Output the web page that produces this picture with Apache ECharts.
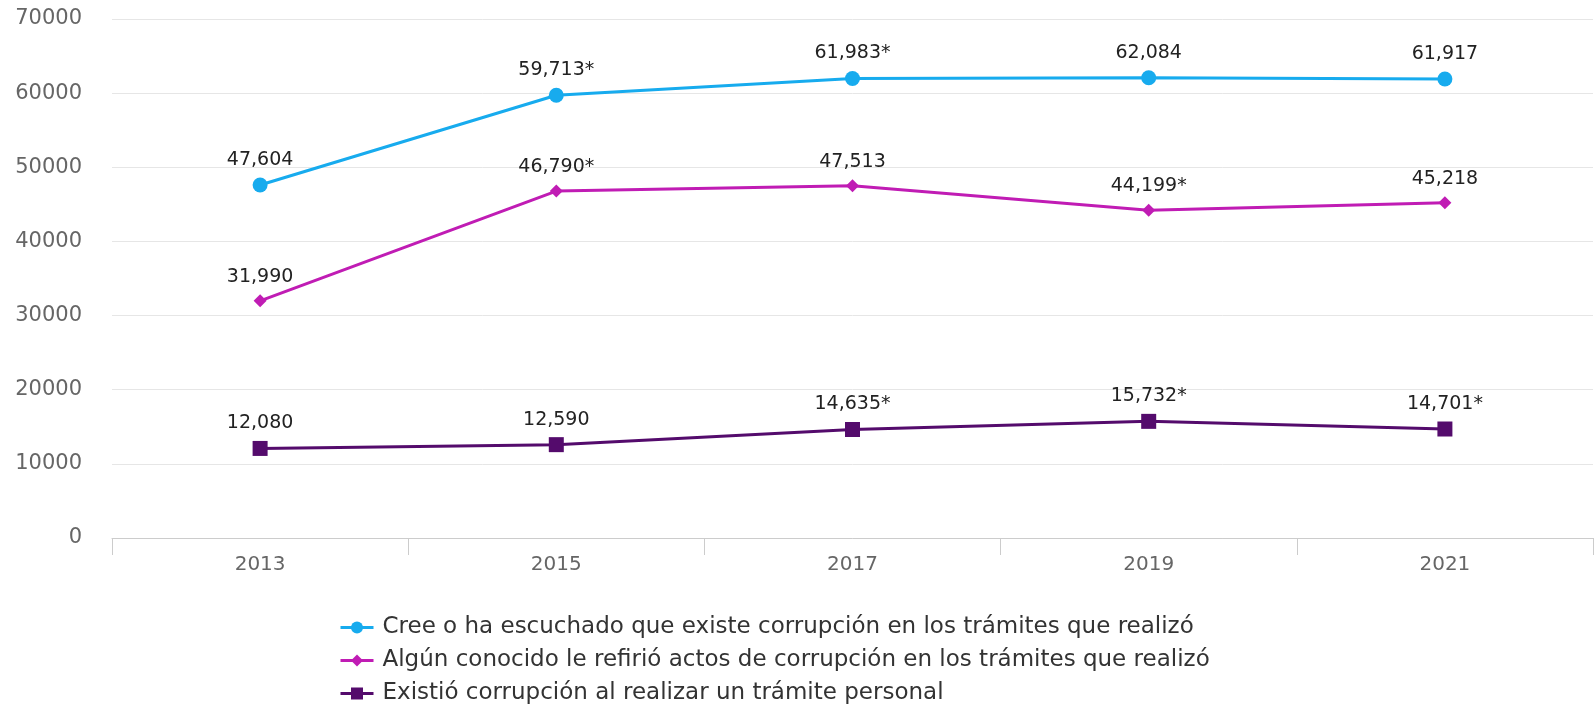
<!DOCTYPE html>
<html><head><meta charset="utf-8">
<script src="https://cdn.jsdelivr.net/npm/echarts@6/dist/echarts.min.js"></script>
<style>html,body{margin:0;padding:0;background:#fff;}#c{width:1596px;height:710px;}</style>
</head><body><div id="c"></div>
<script>
const years = ['2013','2015','2017','2019','2021'];
const seriesNames = [
  'Cree o ha escuchado que existe corrupción en los trámites que realizó',
  'Algún conocido le refirió actos de corrupción en los trámites que realizó',
  'Existió corrupción al realizar un trámite personal'
];
const creeValues = [47604, 59713, 61983, 62084, 61917];
const conocidoValues = [31990, 46790, 47513, 44199, 45218];
const existioValues = [12080, 12590, 14635, 15732, 14701];
const creeMarks = ['', '*', '*', '', ''];
const conocidoMarks = ['', '*', '', '*', ''];
const existioMarks = ['', '', '*', '*', '*'];
const yTicks = [0, 10000, 20000, 30000, 40000, 50000, 60000, 70000];

const colors = ['#17abee', '#c01cb4', '#540b6c'];
const symbols = ['circle', 'diamond', 'rect'];
const symSizes = [15, 13, 15];
const allValues = [creeValues, conocidoValues, existioValues];
const allMarks = [creeMarks, conocidoMarks, existioMarks];
const FF = "'DejaVu Sans', Verdana, sans-serif";

function fmt(v){ return v.toLocaleString('en-US'); }

const chart = echarts.init(document.getElementById('c'));
chart.setOption({
  animation: false,
  textStyle: { fontFamily: FF },
  grid: { left: 112, right: 3, top: 19, bottom: 172 },
  legend: {
    orient: 'vertical', left: 339, top: 616, itemGap: 10, padding: 0,
    height: 100,
    itemWidth: 33, itemHeight: 15,
    lineStyle: { width: 3 },
    textStyle: { fontSize: 23, color: '#333', fontFamily: FF, padding: [0,0,0,4] },
    data: seriesNames
  },
  xAxis: {
    type: 'category', data: years, boundaryGap: true,
    axisLine: { lineStyle: { color: '#cccccc', width: 1 } },
    axisTick: { show: true, length: 17, lineStyle: { color: '#cccccc' } },
    axisLabel: { fontSize: 20, color: '#666', margin: 17, fontFamily: FF }
  },
  yAxis: {
    type: 'value', min: 0, max: 70000, interval: 10000,
    axisLine: { show: false }, axisTick: { show: false },
    splitLine: { lineStyle: { color: '#e6e6e6' } },
    axisLabel: { fontSize: 21, color: '#666', margin: 30, fontFamily: FF,
      formatter: v => yTicks.includes(v) ? String(v) : '' }
  },
  series: seriesNames.map((name, i) => ({
    name, type: 'line', data: allValues[i],
    symbol: symbols[i], symbolSize: symSizes[i],
    itemStyle: { color: colors[i] },
    lineStyle: { color: colors[i], width: 3 },
    label: {
      show: true, position: 'top', distance: 8,
      fontSize: 19, color: '#222', fontFamily: FF,
      formatter: p => fmt(p.value) + allMarks[i][p.dataIndex]
    }
  }))
});
</script></body></html>
